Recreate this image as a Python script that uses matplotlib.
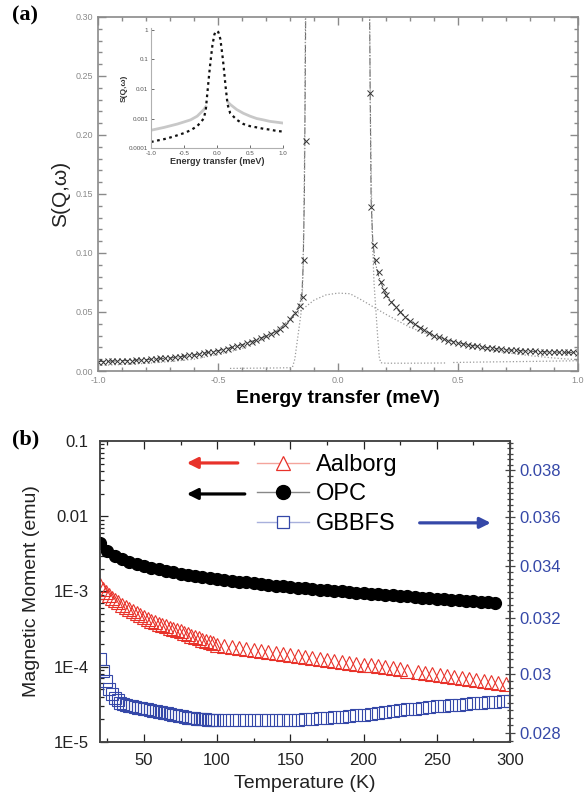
import numpy as np
import matplotlib.pyplot as plt
from matplotlib.lines import Line2D
from matplotlib.ticker import MultipleLocator, FixedLocator, FixedFormatter, NullFormatter, LogLocator

plt.rcParams['font.family'] = ['Liberation Sans', 'DejaVu Sans']
plt.rcParams['axes.unicode_minus'] = False

# ---------------- (a) S(Q,w) vs energy transfer ----------------
# measured points, energy loss side
e_left = np.linspace(-1.0, -0.16, 43)
s_left = [0.0080, 0.0078, 0.0082, 0.0083, 0.0081, 0.0086, 0.0088, 0.0087, 0.0092, 0.0094,
          0.0097, 0.0101, 0.0100, 0.0106, 0.0110, 0.0112, 0.0118, 0.0121, 0.0127, 0.0133,
          0.0137, 0.0144, 0.0149, 0.0158, 0.0165, 0.0172, 0.0180, 0.0190, 0.0200, 0.0211,
          0.0222, 0.0235, 0.0249, 0.0263, 0.0278, 0.0295, 0.0313, 0.0333, 0.0356, 0.0390,
          0.0440, 0.0490, 0.0550]
# points on the flanks of the elastic line
e_mid = [-0.146, -0.140, -0.135, 0.133, 0.1375, 0.150, 0.158, 0.171, 0.179, 0.190]
s_mid = [0.063, 0.094, 0.195, 0.236, 0.139, 0.107, 0.094, 0.084, 0.075, 0.069]
# energy gain side
e_right = np.linspace(0.20, 1.0, 41)
s_right = [0.0640, 0.0585, 0.0545, 0.0500, 0.0460, 0.0420, 0.0395, 0.0368, 0.0345, 0.0320,
           0.0300, 0.0285, 0.0270, 0.0258, 0.0248, 0.0238, 0.0230, 0.0222, 0.0215, 0.0210,
           0.0204, 0.0198, 0.0192, 0.0188, 0.0184, 0.0180, 0.0177, 0.0175, 0.0170, 0.0172,
           0.0166, 0.0168, 0.0163, 0.0165, 0.0160, 0.0164, 0.0158, 0.0162, 0.0157, 0.0160,
           0.0152]

# total fit
fit_e = [-1.0, -0.9, -0.8, -0.7, -0.6, -0.5, -0.4, -0.3, -0.25, -0.2, -0.18, -0.16, -0.15,
         -0.145, -0.14, -0.137, -0.134, np.nan, 0.131, 0.134, 0.138, 0.145, 0.155, 0.17, 0.2,
         0.25, 0.3, 0.4, 0.5, 0.6, 0.7, 0.8, 0.9, 1.0]
fit_s = [0.0080, 0.0087, 0.0096, 0.0110, 0.0136, 0.0172, 0.0222, 0.0295, 0.0345, 0.0440,
         0.0490, 0.0560, 0.0660, 0.0900, 0.1500, 0.2300, 0.3200, np.nan, 0.3200, 0.2400,
         0.1450, 0.1100, 0.0920, 0.0800, 0.0640, 0.0520, 0.0420, 0.0300, 0.0238, 0.0204,
         0.0180, 0.0167, 0.0161, 0.0155]

# elastic (narrow) component + background
el_e = [-0.45, -0.35, -0.25, -0.20, -0.19, -0.18, -0.17, -0.16, -0.15, -0.145, -0.14, -0.135,
        np.nan, 0.131, 0.136, 0.142, 0.150, 0.155, 0.165, 0.172, 0.178, 0.20, 0.30, 0.45,
        np.nan, 0.48, 0.6, 0.8, 1.0]
el_s = [0.0022, 0.0024, 0.0026, 0.0028, 0.0030, 0.0100, 0.0250, 0.0400, 0.0550, 0.0900,
        0.1700, 0.3200, np.nan, 0.3200, 0.2000, 0.1200, 0.0750, 0.0600, 0.0300, 0.0120,
        0.0070, 0.0066, 0.0066, 0.0068, np.nan, 0.0072, 0.0076, 0.0081, 0.0087]

# quasi-elastic (broad) component
qe_e = [-1.0, -0.9, -0.8, -0.7, -0.6, -0.5, -0.4, -0.3, -0.2, -0.15, -0.1, -0.05, 0.0, 0.05,
        0.1, 0.2, 0.3, 0.4, 0.5, 0.6, 0.7, 0.8, 0.9, 1.0]
qe_s = [0.0047, 0.0055, 0.0065, 0.0080, 0.0100, 0.0140, 0.0190, 0.0280, 0.0430, 0.0520,
        0.0600, 0.0645, 0.0660, 0.0655, 0.0600, 0.0480, 0.0370, 0.0290, 0.0235, 0.0190,
        0.0155, 0.0130, 0.0110, 0.0095]

# inset, log scale
ins_e = [-1.0, -0.9, -0.8, -0.7, -0.6, -0.5, -0.4, -0.3, -0.2, -0.17, -0.15, -0.12, -0.1,
         -0.07, -0.04, -0.02, 0.0, 0.02, 0.05, 0.08, 0.1, 0.13, 0.16, 0.2, 0.3, 0.4, 0.5,
         0.6, 0.7, 0.8, 0.9, 1.0]
ins_dark = [1.6e-4, 1.8e-4, 2.0e-4, 2.3e-4, 2.7e-4, 3.2e-4, 4.0e-4, 5.5e-4, 1.0e-3, 2.0e-3,
            6.0e-3, 3.0e-2, 8.0e-2, 0.30, 0.70, 0.90, 0.92, 0.85, 0.50, 0.15, 0.06, 0.012,
            3.0e-3, 1.5e-3, 9.0e-4, 6.5e-4, 5.5e-4, 5.0e-4, 4.5e-4, 4.2e-4, 3.8e-4, 3.6e-4]
ins_e2 = [-1.0, -0.8, -0.6, -0.4, -0.3, -0.2, -0.17, np.nan, 0.17, 0.2, 0.3, 0.4, 0.5, 0.6,
          0.7, 0.8, 0.9, 1.0]
ins_light = [4.0e-4, 5.0e-4, 6.5e-4, 9.0e-4, 1.2e-3, 2.0e-3, 2.5e-3, np.nan, 3.5e-3, 3.0e-3,
             2.0e-3, 1.5e-3, 1.2e-3, 1.0e-3, 9.0e-4, 8.0e-4, 7.5e-4, 7.0e-4]

# ---------------- (b) magnetic moment vs temperature ----------------
T_opc = list(range(20, 291, 5))
m_opc = [4.40e-3, 3.40e-3, 2.95e-3, 2.70e-3, 2.50e-3, 2.33e-3, 2.18e-3, 2.06e-3, 1.96e-3,
         1.87e-3, 1.80e-3, 1.73e-3, 1.66e-3, 1.60e-3, 1.55e-3, 1.50e-3, 1.46e-3, 1.42e-3,
         1.38e-3, 1.35e-3, 1.32e-3, 1.29e-3, 1.26e-3, 1.23e-3, 1.20e-3, 1.18e-3, 1.15e-3,
         1.12e-3, 1.10e-3, 1.08e-3, 1.06e-3, 1.04e-3, 1.02e-3, 1.00e-3, 9.80e-4, 9.65e-4,
         9.50e-4, 9.35e-4, 9.20e-4, 9.05e-4, 8.90e-4, 8.75e-4, 8.60e-4, 8.45e-4, 8.30e-4,
         8.15e-4, 8.00e-4, 7.88e-4, 7.76e-4, 7.64e-4, 7.52e-4, 7.40e-4, 7.28e-4, 7.16e-4,
         7.04e-4]

T_aal = [20, 22, 24, 26, 28, 30, 32.5, 35, 37.5, 40, 42.5, 45, 47.5, 50, 52.5, 55, 57.5, 60,
         62.5, 65, 67.5, 70, 72.5, 75, 77.5, 80, 82.5, 85, 87.5, 90, 92.5, 95, 97.5, 100,
         105, 110, 115, 120, 125, 130, 135, 140, 145, 150, 155, 160, 165, 170, 175, 180, 185,
         190, 195, 200, 205, 210, 215, 220, 225, 230,
         237, 242, 247, 252, 257, 262, 267, 272, 277, 282, 287, 292, 297]
m_aal = [1.22e-3, 1.08e-3, 9.8e-4, 9.0e-4, 8.3e-4, 7.8e-4, 7.2e-4, 6.7e-4, 6.25e-4, 5.9e-4,
         5.55e-4, 5.2e-4, 4.85e-4, 4.55e-4, 4.3e-4, 4.1e-4, 3.9e-4, 3.75e-4, 3.6e-4, 3.45e-4,
         3.3e-4, 3.18e-4, 3.05e-4, 2.95e-4, 2.82e-4, 2.7e-4, 2.6e-4, 2.5e-4, 2.4e-4, 2.3e-4,
         2.2e-4, 2.12e-4, 2.04e-4, 1.96e-4,
         1.89e-4, 1.83e-4, 1.78e-4, 1.72e-4, 1.67e-4, 1.62e-4, 1.57e-4, 1.52e-4, 1.48e-4, 1.44e-4,
         1.40e-4, 1.36e-4, 1.32e-4, 1.28e-4, 1.24e-4, 1.20e-4, 1.17e-4, 1.13e-4, 1.10e-4,
         1.07e-4, 1.04e-4, 1.01e-4, 9.8e-5, 9.5e-5, 9.2e-5, 8.9e-5,
         8.6e-5, 8.3e-5, 8.0e-5, 7.8e-5, 7.5e-5, 7.3e-5, 7.1e-5, 6.9e-5, 6.7e-5, 6.5e-5,
         6.3e-5, 6.1e-5, 5.9e-5]

T_gb = list(range(20, 101, 2)) + list(range(105, 301, 5))
m_gb = [0.03050, 0.03010, 0.02975, 0.02947, 0.02930, 0.02918, 0.02908, 0.02900, 0.02896,
        0.02892, 0.02890, 0.02888, 0.02886, 0.02884, 0.02882, 0.02880, 0.02878, 0.02876,
        0.02874, 0.02872, 0.02871, 0.02869, 0.02867, 0.02865, 0.02863, 0.02861, 0.02859,
        0.02857, 0.02855, 0.02852, 0.02850, 0.02849, 0.02848, 0.02847, 0.02846, 0.02845,
        0.02845, 0.02844, 0.02844, 0.02843, 0.02843,
        0.02843, 0.02842, 0.02842, 0.02842, 0.02842, 0.02842, 0.02842, 0.02843, 0.02843,
        0.02843, 0.02844, 0.02845, 0.02846, 0.02848, 0.02850, 0.02852, 0.02854, 0.02856,
        0.02858, 0.02860, 0.02863, 0.02866, 0.02869, 0.02872, 0.02875, 0.02878, 0.02881,
        0.02884, 0.02886, 0.02888, 0.02890, 0.02892, 0.02894, 0.02896, 0.02898, 0.02900,
        0.02902, 0.02904, 0.02905, 0.02906]

left_ticks = [1e-5, 1e-4, 1e-3, 1e-2, 1e-1]
left_labels = ['1E-5', '1E-4', '1E-3', '0.01', '0.1']
right_ticks = [0.028, 0.030, 0.032, 0.034, 0.036, 0.038]
right_labels = ['0.028', '0.03', '0.032', '0.034', '0.036', '0.038']

RED = '#e8322a'
BLUE = '#3548a8'
GREY = '#8a8a8a'

fig = plt.figure(figsize=(5.84, 7.97), dpi=100)

# ---- panel (a)
ax = fig.add_axes([0.1678, 0.5345, 0.8219, 0.4442])
ax.plot(fit_e, fit_s, color='#666666', lw=0.8, ls='-.')
ax.plot(el_e, el_s, color='#9a9a9a', lw=0.9, ls=':')
ax.plot(qe_e, qe_s, color='#9a9a9a', lw=0.9, ls=':')
ax.plot(np.concatenate([e_left, e_mid, e_right]), s_left + s_mid + s_right,
        'x', color='#333333', ms=4, mew=0.7)
ax.set_xlim(-1.0, 1.0)
ax.set_ylim(0.0, 0.30)
ax.xaxis.set_major_locator(MultipleLocator(0.5))
ax.xaxis.set_minor_locator(MultipleLocator(0.1))
ax.yaxis.set_major_locator(MultipleLocator(0.05))
ax.yaxis.set_minor_locator(MultipleLocator(0.01))
ax.tick_params(which='both', direction='in', top=True, right=True, colors=GREY,
               labelsize=6.5, width=1.0)
ax.tick_params(which='major', length=6)
ax.tick_params(which='minor', length=3)
for s in ax.spines.values():
    s.set_color(GREY)
    s.set_linewidth(1.2)
ax.set_xlabel('Energy transfer (meV)', fontsize=14, fontweight='bold', labelpad=4)
ax.set_ylabel('S(Q,ω)', fontsize=15, color='#222222', labelpad=4)

# inset
axi = fig.add_axes([0.2586, 0.8143, 0.226, 0.151])
axi.plot(ins_e2, ins_light, color='#c8c8c8', lw=2.0)
axi.plot(ins_e, ins_dark, color='#111111', lw=1.6, ls=(0, (1.2, 1.6)))
axi.set_yscale('log')
axi.set_xlim(-1.0, 1.0)
axi.set_ylim(1e-4, 1.2)
axi.spines['top'].set_visible(False)
axi.spines['right'].set_visible(False)
for s in ['left', 'bottom']:
    axi.spines[s].set_color('#b0b0b0')
    axi.spines[s].set_linewidth(0.8)
axi.yaxis.set_major_locator(FixedLocator([1e-4, 1e-3, 1e-2, 1e-1, 1]))
axi.yaxis.set_major_formatter(FixedFormatter(['0.0001', '0.001', '0.01', '0.1', '1']))
axi.yaxis.set_minor_locator(FixedLocator([]))
axi.xaxis.set_major_locator(FixedLocator([-1.0, -0.5, 0.0, 0.5, 1.0]))
axi.xaxis.set_major_formatter(FixedFormatter(['-1.0', '-0.5', '0.0', '0.5', '1.0']))
axi.tick_params(direction='in', length=2, width=0.6, colors='#555555', labelsize=4.5,
                pad=2)
axi.set_xlabel('Energy transfer (meV)', fontsize=6.5, fontweight='bold', color='#333333',
               labelpad=1)
axi.set_ylabel('S(Q,ω)', fontsize=6, fontweight='bold', color='#333333', labelpad=1)

fig.text(0.020, 0.981, '(a)', family=['Liberation Serif', 'DejaVu Serif'],
         fontweight='bold', fontsize=16, va='center')

# ---- panel (b)
bx = fig.add_axes([0.1712, 0.0690, 0.702, 0.3777])
bx.plot(T_opc, m_opc, 'o', color='black', ms=8.5, zorder=3)
bx.plot(T_aal, m_aal, '^', mfc='none', mec=RED, ms=9.5, mew=0.8, zorder=2)
bx.set_yscale('log')
bx.set_xlim(20, 300)
bx.set_ylim(1e-5, 0.1)
bx.yaxis.set_major_locator(FixedLocator(left_ticks))
bx.yaxis.set_major_formatter(FixedFormatter(left_labels))
bx.yaxis.set_minor_locator(LogLocator(base=10, subs=np.arange(2, 10)))
bx.yaxis.set_minor_formatter(NullFormatter())
bx.xaxis.set_major_locator(MultipleLocator(50))
bx.xaxis.set_minor_locator(MultipleLocator(25))
bx.tick_params(which='both', direction='in', top=True, right=False, labelsize=12,
               colors='#222222', width=0.9)
bx.tick_params(which='major', length=6)
bx.tick_params(which='minor', length=3)
bx.tick_params(axis='y', pad=8)
bx.tick_params(axis='x', pad=8)
for s in bx.spines.values():
    s.set_color('#444444')
    s.set_linewidth(1.1)
bx.set_xlabel('Temperature (K)', fontsize=14, color='#222222', labelpad=5)
bx.set_ylabel('Magnetic Moment (emu)', fontsize=14, color='#222222', labelpad=10)

tx = bx.twinx()
tx.plot(T_gb, m_gb, 's', mfc='none', mec=BLUE, ms=8, mew=0.8)
tx.set_yscale('log')
tx.set_ylim(0.02771, 0.03932)
tx.yaxis.set_major_locator(FixedLocator(right_ticks))
tx.yaxis.set_major_formatter(FixedFormatter(right_labels))
tx.yaxis.set_minor_locator(FixedLocator(np.arange(0.02775, 0.0393, 0.00025)))
tx.yaxis.set_minor_formatter(NullFormatter())
tx.tick_params(which='both', direction='inout', labelsize=12, labelcolor=BLUE,
               color='#444444', width=0.9)
tx.tick_params(which='major', length=7)
tx.tick_params(which='minor', length=4)
for s in tx.spines.values():
    s.set_color('#444444')
    s.set_linewidth(1.1)

handles = [
    Line2D([], [], color='#f4a49c', lw=1.0, marker='^', mfc='white', mec=RED, ms=10, mew=0.9),
    Line2D([], [], color='#888888', lw=1.0, marker='o', mfc='black', mec='black', ms=10),
    Line2D([], [], color='#a8b0dc', lw=1.0, marker='s', mfc='white', mec=BLUE, ms=9, mew=0.9),
]
tx.legend(handles, ['Aalborg', 'OPC', 'GBBFS'], loc='upper left', bbox_to_anchor=(0.383, 0.957),
          frameon=False, fontsize=17, handlelength=2.2, handletextpad=0.3, labelspacing=0.32,
          borderpad=0, borderaxespad=0)

tx.annotate('', xy=(0.205, 0.927), xytext=(0.343, 0.927), xycoords='axes fraction',
            arrowprops=dict(arrowstyle='-|>', color=RED, lw=2.3, mutation_scale=16))
tx.annotate('', xy=(0.205, 0.824), xytext=(0.36, 0.824), xycoords='axes fraction',
            arrowprops=dict(arrowstyle='-|>', color='black', lw=2.3, mutation_scale=16))
tx.annotate('', xy=(0.96, 0.728), xytext=(0.773, 0.728), xycoords='axes fraction',
            arrowprops=dict(arrowstyle='-|>', color=BLUE, lw=2.3, mutation_scale=16))

fig.text(0.020, 0.448, '(b)', family=['Liberation Serif', 'DejaVu Serif'],
         fontweight='bold', fontsize=16, va='center')

fig.savefig('out.png', dpi=100)
